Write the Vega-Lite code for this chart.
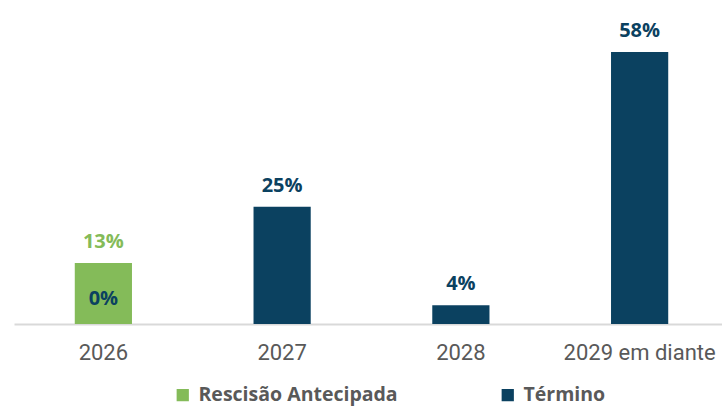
{
  "$schema": "https://vega.github.io/schema/vega-lite/v6.json",
  "width": 715,
  "height": 272,
  "autosize": {"type": "none"},
  "padding": {"left": 14, "top": 52, "right": 0, "bottom": 82},
  "background": "white",
  "config": {"view": {"stroke": null}},
  "data": {"values": [
    {"year": "2026", "serie": "Rescisão Antecipada", "value": 13},
    {"year": "2026", "serie": "Término", "value": 0},
    {"year": "2027", "serie": "Término", "value": 25},
    {"year": "2028", "serie": "Término", "value": 4},
    {"year": "2029 em diante", "serie": "Término", "value": 58}
  ]},
  "encoding": {
    "x": {"field": "year", "type": "nominal", "sort": null,
      "scale": {"paddingInner": 0.68, "paddingOuter": 0.34},
      "axis": {"title": null, "labelAngle": 0, "ticks": false, "grid": false,
        "domainColor": "#D9D9D9", "domainWidth": 2,
        "labelFont": "Roboto", "labelFontSize": 22, "labelColor": "#595959",
        "labelPadding": 18, "labelLimit": 300}}
  },
  "layer": [
    {
      "mark": {"type": "bar"},
      "encoding": {
        "y": {"field": "value", "type": "quantitative", "stack": "zero",
          "scale": {"domain": [0, 58], "nice": false}, "axis": null},
        "color": {"field": "serie", "type": "nominal",
          "scale": {"domain": ["Rescisão Antecipada", "Término"], "range": ["#84BB59", "#0B4160"]},
          "legend": {"title": null, "orient": "none", "legendX": 159, "legendY": 333,
            "direction": "horizontal", "columns": 2, "columnPadding": 100,
            "symbolType": "square", "symbolSize": 150, "symbolStrokeWidth": 0,
            "labelFont": "Open Sans", "labelFontSize": 19.5, "labelFontWeight": "bold",
            "labelColor": "#595959", "labelOffset": 6, "labelLimit": 400}}
      }
    },
    {
      "transform": [{"filter": "datum.value > 0"}, {"calculate": "datum.value + '%'", "as": "lbl"}],
      "mark": {"type": "text", "dy": -21, "font": "Open Sans", "fontSize": 20, "fontWeight": "bold"},
      "encoding": {
        "y": {"field": "value", "type": "quantitative"},
        "text": {"field": "lbl"},
        "color": {"field": "serie", "type": "nominal", "legend": null}
      }
    },
    {
      "transform": [
        {"joinaggregate": [{"op": "sum", "field": "value", "as": "total"}], "groupby": ["year"]},
        {"filter": "datum.value == 0"},
        {"calculate": "datum.total / 2", "as": "mid"},
        {"calculate": "datum.value + '%'", "as": "lbl"}
      ],
      "mark": {"type": "text", "font": "Open Sans", "fontSize": 20, "fontWeight": "bold", "color": "#0B4160", "baseline": "middle", "dy": 5},
      "encoding": {
        "y": {"field": "mid", "type": "quantitative"},
        "text": {"field": "lbl"}
      }
    }
  ]
}
